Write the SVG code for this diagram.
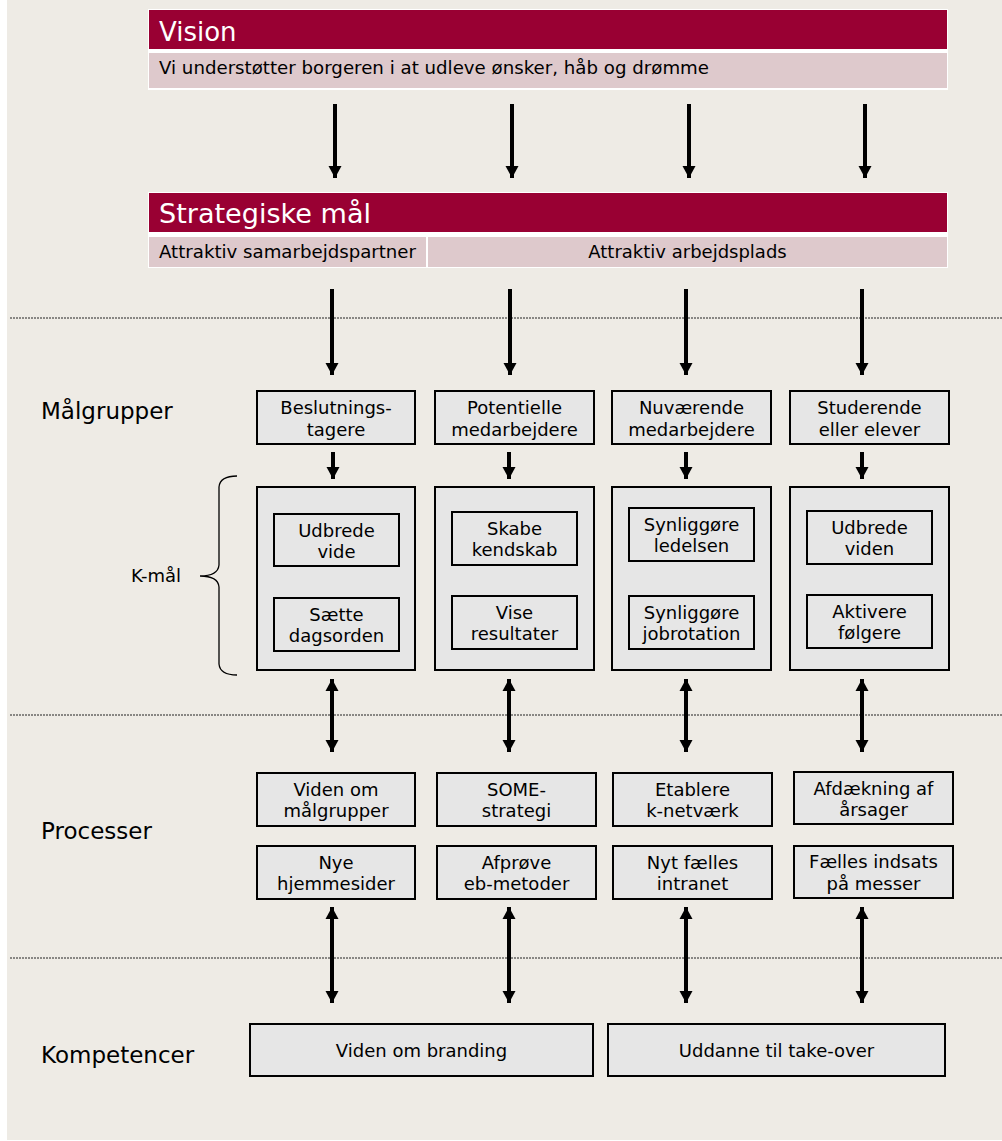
<svg xmlns="http://www.w3.org/2000/svg" width="1002" height="1141" viewBox="0 0 1002 1141">
<defs>
<style>
text{font-family:"DejaVu Sans","Liberation Sans",sans-serif;fill:#000}
.hd{font-size:26px;fill:#fff}
.sub{font-size:18px}
.t{font-size:18px;text-anchor:middle}
.lbl{font-size:23px}
.box{fill:#e6e6e6;stroke:#000;stroke-width:2}
.red{fill:#990033}
.pink{fill:#dec9cc}
.dash{stroke:#222;stroke-width:1;stroke-dasharray:2 1;fill:none}
.arr{stroke:#000;stroke-width:4;fill:none}
</style>
<marker id="ad" markerUnits="userSpaceOnUse" markerWidth="14" markerHeight="14" viewBox="0 0 14 14" refX="13" refY="7" orient="auto-start-reverse">
<path d="M1,0.5 L13,7 L1,13.5 Z" fill="#000"/>
</marker>
</defs>
<rect x="0" y="0" width="1002" height="1141" fill="#fff"/>
<rect x="7" y="0" width="995" height="1140" fill="#eeebe5"/>

<g id="vision">
<rect x="148" y="9" width="800" height="81" fill="#fff"/>
<rect class="red" x="149" y="10" width="798" height="39"/>
<rect class="pink" x="149" y="53" width="798" height="35"/>
<text class="hd" x="159" y="41">Vision</text>
<text class="sub" x="159" y="74" textLength="550" lengthAdjust="spacingAndGlyphs">Vi understøtter borgeren i at udleve ønsker, håb og drømme</text>
</g>

<g id="strategiske-maal">
<rect x="148" y="192" width="800" height="76" fill="#fff"/>
<rect class="red" x="149" y="193" width="798" height="39"/>
<rect class="pink" x="149" y="237" width="277" height="30"/>
<rect class="pink" x="428" y="237" width="519" height="30"/>
<text class="hd" x="159" y="223" textLength="212" lengthAdjust="spacingAndGlyphs">Strategiske mål</text>
<text class="sub" x="159" y="258" textLength="257" lengthAdjust="spacingAndGlyphs">Attraktiv samarbejdspartner</text>
<text class="sub" x="687.5" y="258" text-anchor="middle">Attraktiv arbejdsplads</text>
</g>

<g id="separators">
<line class="dash" x1="10" y1="318" x2="1002" y2="318"/>
<line class="dash" x1="10" y1="715" x2="1002" y2="715"/>
<line class="dash" x1="10" y1="958" x2="1002" y2="958"/>
</g>

<g id="labels">
<text class="lbl" x="41" y="419">Målgrupper</text>
<text class="lbl" x="41" y="839">Processer</text>
<text class="lbl" x="41" y="1063">Kompetencer</text>
<text x="131" y="582" font-size="18">K-mål</text>
<path d="M237,476 Q220,476 219,487 L219,565 Q218,576 200,576 Q218,576 219,587 L219,664 Q220,675 237,675" fill="none" stroke="#000" stroke-width="1.3"/>
</g>

<g id="maalgrupper">
<g id="mg1"><rect class="box" x="257" y="391" width="158" height="53"/><text class="t" x="336" y="414">Beslutnings-</text><text class="t" x="336" y="435.5">tagere</text></g>
<g id="mg2"><rect class="box" x="435" y="391" width="159" height="53"/><text class="t" x="514.5" y="414">Potentielle</text><text class="t" x="514.5" y="435.5">medarbejdere</text></g>
<g id="mg3"><rect class="box" x="612" y="391" width="159" height="53"/><text class="t" x="691.5" y="414">Nuværende</text><text class="t" x="691.5" y="435.5">medarbejdere</text></g>
<g id="mg4"><rect class="box" x="790" y="391" width="159" height="53"/><text class="t" x="869.5" y="414">Studerende</text><text class="t" x="869.5" y="435.5">eller elever</text></g>
</g>

<g id="kmaal">
<g id="km1"><rect class="box" x="257" y="487" width="158" height="183"/>
<g id="km1a"><rect class="box" x="274" y="514" width="125" height="52"/><text class="t" x="336.5" y="536.5">Udbrede</text><text class="t" x="336.5" y="558">vide</text></g>
<g id="km1b"><rect class="box" x="274" y="598" width="125" height="53"/><text class="t" x="336.5" y="620.5">Sætte</text><text class="t" x="336.5" y="642">dagsorden</text></g>
</g>
<g id="km2"><rect class="box" x="435" y="487" width="159" height="183"/>
<g id="km2a"><rect class="box" x="452" y="512" width="125" height="53"/><text class="t" x="514.5" y="534.5">Skabe</text><text class="t" x="514.5" y="556">kendskab</text></g>
<g id="km2b"><rect class="box" x="452" y="596" width="125" height="53"/><text class="t" x="514.5" y="618.5">Vise</text><text class="t" x="514.5" y="640">resultater</text></g>
</g>
<g id="km3"><rect class="box" x="612" y="487" width="159" height="183"/>
<g id="km3a"><rect class="box" x="629" y="508" width="125" height="53"/><text class="t" x="691.5" y="530.5">Synliggøre</text><text class="t" x="691.5" y="552">ledelsen</text></g>
<g id="km3b"><rect class="box" x="629" y="596" width="125" height="53"/><text class="t" x="691.5" y="618.5">Synliggøre</text><text class="t" x="691.5" y="640">jobrotation</text></g>
</g>
<g id="km4"><rect class="box" x="790" y="487" width="159" height="183"/>
<g id="km4a"><rect class="box" x="807" y="511" width="125" height="53"/><text class="t" x="869.5" y="533.5">Udbrede</text><text class="t" x="869.5" y="555">viden</text></g>
<g id="km4b"><rect class="box" x="807" y="595" width="125" height="53"/><text class="t" x="869.5" y="617.5">Aktivere</text><text class="t" x="869.5" y="639">følgere</text></g>
</g>
</g>

<g id="processer">
<g id="p1"><rect class="box" x="257" y="773" width="158" height="53"/><text class="t" x="336" y="795.5">Viden om</text><text class="t" x="336" y="817">målgrupper</text></g>
<g id="p2"><rect class="box" x="437" y="773" width="159" height="53"/><text class="t" x="516.5" y="795.5">SOME-</text><text class="t" x="516.5" y="817">strategi</text></g>
<g id="p3"><rect class="box" x="613" y="773" width="159" height="53"/><text class="t" x="692.5" y="795.5">Etablere</text><text class="t" x="692.5" y="817">k-netværk</text></g>
<g id="p4"><rect class="box" x="794" y="772" width="159" height="52"/><text class="t" x="873.5" y="794.5">Afdækning af</text><text class="t" x="873.5" y="816">årsager</text></g>
<g id="p5"><rect class="box" x="257" y="846" width="158" height="53"/><text class="t" x="336" y="868.5">Nye</text><text class="t" x="336" y="890">hjemmesider</text></g>
<g id="p6"><rect class="box" x="437" y="846" width="159" height="53"/><text class="t" x="516.5" y="868.5">Afprøve</text><text class="t" x="516.5" y="890">eb-metoder</text></g>
<g id="p7"><rect class="box" x="613" y="846" width="159" height="53"/><text class="t" x="692.5" y="868.5">Nyt fælles</text><text class="t" x="692.5" y="890">intranet</text></g>
<g id="p8"><rect class="box" x="794" y="846" width="159" height="52"/><text class="t" x="873.5" y="868">Fælles indsats</text><text class="t" x="873.5" y="889.5">på messer</text></g>
</g>

<g id="kompetencer">
<g id="k1"><rect class="box" x="250" y="1024" width="343" height="52"/><text class="t" x="421.5" y="1057">Viden om branding</text></g>
<g id="k2"><rect class="box" x="608" y="1024" width="337" height="52"/><text class="t" x="776.5" y="1057">Uddanne til take-over</text></g>
</g>

<g id="connectors">
<line class="arr" x1="335" y1="104" x2="335" y2="178" marker-end="url(#ad)"/>
<line class="arr" x1="512" y1="104" x2="512" y2="178" marker-end="url(#ad)"/>
<line class="arr" x1="689" y1="104" x2="689" y2="178" marker-end="url(#ad)"/>
<line class="arr" x1="865" y1="104" x2="865" y2="178" marker-end="url(#ad)"/>

<line class="arr" x1="332" y1="289" x2="332" y2="375" marker-end="url(#ad)"/>
<line class="arr" x1="510" y1="289" x2="510" y2="375" marker-end="url(#ad)"/>
<line class="arr" x1="686" y1="289" x2="686" y2="375" marker-end="url(#ad)"/>
<line class="arr" x1="862" y1="289" x2="862" y2="375" marker-end="url(#ad)"/>

<line class="arr" x1="333" y1="452" x2="333" y2="479" marker-end="url(#ad)"/>
<line class="arr" x1="509" y1="452" x2="509" y2="479" marker-end="url(#ad)"/>
<line class="arr" x1="686" y1="452" x2="686" y2="479" marker-end="url(#ad)"/>
<line class="arr" x1="862" y1="452" x2="862" y2="479" marker-end="url(#ad)"/>

<line class="arr" x1="332" y1="679" x2="332" y2="752" marker-start="url(#ad)" marker-end="url(#ad)"/>
<line class="arr" x1="509" y1="679" x2="509" y2="752" marker-start="url(#ad)" marker-end="url(#ad)"/>
<line class="arr" x1="686" y1="679" x2="686" y2="752" marker-start="url(#ad)" marker-end="url(#ad)"/>
<line class="arr" x1="862" y1="679" x2="862" y2="752" marker-start="url(#ad)" marker-end="url(#ad)"/>

<line class="arr" x1="332" y1="907" x2="332" y2="1003" marker-start="url(#ad)" marker-end="url(#ad)"/>
<line class="arr" x1="509" y1="907" x2="509" y2="1003" marker-start="url(#ad)" marker-end="url(#ad)"/>
<line class="arr" x1="686" y1="907" x2="686" y2="1003" marker-start="url(#ad)" marker-end="url(#ad)"/>
<line class="arr" x1="862" y1="907" x2="862" y2="1003" marker-start="url(#ad)" marker-end="url(#ad)"/>
</g>
</svg>
